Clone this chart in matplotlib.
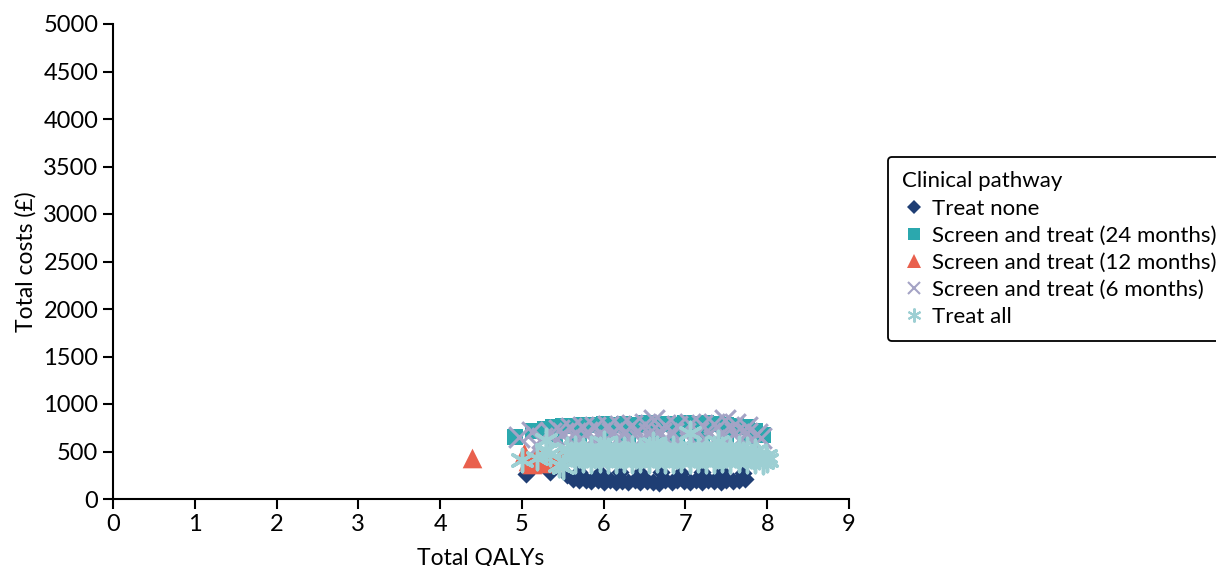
import matplotlib
matplotlib.use("Agg")
import matplotlib.pyplot as plt
from matplotlib.lines import Line2D

plt.rcParams['font.family'] = ['Lato', 'DejaVu Sans']

# PSA samples per clinical pathway (QALYs, costs in GBP)
treat_none_qaly = [5.05, 5.34, 5.55, 5.62, 5.70, 5.78, 5.85, 5.93, 6.00, 6.08,
                   6.15, 6.23, 6.30, 6.38, 6.45, 6.53, 6.60, 6.68, 6.75, 6.83,
                   6.90, 6.98, 7.05, 7.13, 7.20, 7.28, 7.35, 7.43, 7.50, 7.58,
                   7.65, 7.73, 5.70, 5.95, 6.20, 6.45, 6.70, 6.95,
                   7.20, 7.45, 7.70]
treat_none_cost = [265, 285, 250, 215, 195, 205, 185, 200, 180, 195,
                   175, 190, 180, 195, 175, 190, 180, 170, 195, 180,
                   200, 185, 175, 195, 180, 195, 185, 175, 195, 185,
                   200, 215, 280, 270, 285, 275, 280, 270,
                   280, 285, 275]

screen24_qaly = [4.92, 5.13, 5.28, 5.38, 5.50, 5.62, 5.75, 5.88, 6.00, 6.12,
                 6.25, 6.38, 6.50, 6.62, 6.75, 6.88, 7.00, 7.12, 7.25, 7.38,
                 7.50, 7.62, 7.75, 7.85, 7.95, 5.40, 5.70, 6.00, 6.30, 6.60,
                 6.90, 7.20, 7.50, 7.80]
screen24_cost = [655, 720, 740, 755, 765, 770, 780, 775, 785, 780,
                 790, 780, 795, 785, 790, 780, 795, 785, 800, 790,
                 780, 770, 760, 720, 670, 660, 650, 640, 660, 650,
                 640, 655, 645, 650]

screen12_qaly = [4.39, 5.02, 5.08, 5.15, 5.22, 5.30, 5.38, 5.48, 5.60, 5.80,
                 6.10, 6.50, 6.90, 7.30, 7.70, 7.89, 5.25, 5.12]
screen12_cost = [430, 480, 400, 440, 470, 430, 400, 470, 490, 510,
                 490, 500, 480, 490, 470, 500, 380, 370]

screen6_qaly = [5.45, 5.60, 5.75, 5.90, 6.05, 6.20, 6.35, 6.50, 6.62, 6.75,
                6.90, 7.05, 7.20, 7.35, 7.48, 7.60, 7.75,
                5.35, 5.50, 5.65, 5.80, 5.95, 6.10, 6.25, 6.40, 6.55, 6.70,
                6.85, 7.00, 7.15, 7.30, 7.45, 7.60, 7.75, 7.88,
                5.40, 5.55, 5.70, 5.85, 6.00, 6.15, 6.30, 6.45, 6.60, 6.75,
                6.90, 7.05, 7.20, 7.35, 7.50, 7.65, 7.80, 7.92,
                4.96, 5.12, 5.25, 5.20]
screen6_cost = [730, 750, 760, 755, 770, 765, 780, 790, 830, 780,
                770, 785, 775, 790, 830, 790, 760,
                690, 700, 690, 705, 695, 700, 690, 705, 700, 690,
                700, 695, 705, 690, 700, 695, 690, 680,
                610, 620, 615, 625, 610, 620, 615, 625, 610, 620,
                615, 625, 610, 620, 615, 625, 620, 640,
                650, 710, 640, 560]

treat_all_qaly = [5.55, 5.65, 5.75, 5.85, 5.95, 6.05, 6.15, 6.25, 6.35, 6.45,
                  6.55, 6.65, 6.75, 6.85, 6.95, 7.05, 7.15, 7.25, 7.35, 7.45,
                  7.55, 7.65, 7.75, 7.85,
                  5.60, 5.70, 5.80, 5.90, 6.00, 6.10, 6.20, 6.30, 6.40, 6.50,
                  6.60, 6.70, 6.80, 6.90, 7.00, 7.10, 7.20, 7.30, 7.40, 7.50,
                  7.60, 7.70, 7.80, 7.90,
                  5.65, 5.75, 5.85, 5.95, 6.05, 6.15, 6.25, 6.35, 6.45, 6.55,
                  6.65, 6.75, 6.85, 6.95, 7.05, 7.15, 7.25, 7.35, 7.45, 7.55,
                  7.65, 7.75, 7.85,
                  5.00, 5.18, 5.30, 5.34, 5.45, 5.50, 5.30, 7.05, 6.00, 6.60,
                  7.40, 7.95, 8.00, 7.98]
treat_all_cost = [525, 535, 520, 540, 530, 515, 535, 525, 540, 520,
                  530, 535, 525, 540, 520, 530, 535, 525, 540, 530,
                  520, 535, 525, 510,
                  470, 460, 465, 455, 470, 460, 465, 470, 455, 465,
                  460, 470, 465, 455, 470, 460, 465, 470, 455, 465,
                  460, 470, 450, 440,
                  405, 410, 400, 415, 405, 400, 410, 405, 415, 400,
                  410, 405, 400, 415, 405, 410, 400, 405, 415, 400,
                  410, 405, 400,
                  410, 430, 515, 470, 360, 340, 620, 700, 590, 580,
                  600, 390, 410, 450]

labels = ['Treat none', 'Screen and treat (24 months)',
          'Screen and treat (12 months)', 'Screen and treat (6 months)',
          'Treat all']
colors = ['#1f3e74', '#2ba8ae', '#e9604d', '#a4a3c5', '#9dcfd3']
asterisk = (6, 2, 0)

fig = plt.figure(figsize=(12.16, 5.66), dpi=100)
ax = fig.add_axes([113 / 1216, 67 / 566, 736 / 1216, 475 / 566])

ax.scatter(treat_none_qaly, treat_none_cost, marker='D', s=85,
           color=colors[0], linewidths=0)
ax.scatter(screen24_qaly, screen24_cost, marker='s', s=140,
           color=colors[1], linewidths=0)
ax.scatter(screen12_qaly, screen12_cost, marker='^', s=200,
           color=colors[2], linewidths=0)
ax.scatter(screen6_qaly, screen6_cost, marker='x', s=220,
           color=colors[3], linewidths=2.2)
ax.scatter(treat_all_qaly, treat_all_cost, marker=asterisk, s=260,
           color=colors[4], linewidths=2.5)

ax.set_xlim(0, 9)
ax.set_ylim(0, 5000)
ax.set_xticks(range(0, 10))
ax.set_yticks(range(0, 5001, 500))
for side in ('top', 'right'):
    ax.spines[side].set_visible(False)
for side in ('left', 'bottom'):
    ax.spines[side].set_linewidth(1.5)
ax.tick_params(labelsize=17, width=1.5, length=7, colors='black')
ax.set_xlabel('Total QALYs', fontsize=16.5, labelpad=9)
ax.set_ylabel('Total costs (£)', fontsize=16.5, labelpad=5)

handles = [
    Line2D([], [], ls='none', marker='D', ms=7, color=colors[0], mew=0),
    Line2D([], [], ls='none', marker='s', ms=8.5, color=colors[1], mew=0),
    Line2D([], [], ls='none', marker='^', ms=9.5, color=colors[2], mew=0),
    Line2D([], [], ls='none', marker='x', ms=8, color=colors[3], mew=1.5),
    Line2D([], [], ls='none', marker=asterisk, ms=10, color=colors[4], mew=1.5),
]
leg = fig.legend(handles, labels, title='Clinical pathway',
                 loc='upper left', bbox_to_anchor=(888 / 1216, 409 / 566),
                 borderaxespad=0, fontsize=16, title_fontsize=16,
                 alignment='left', frameon=True, fancybox=True,
                 edgecolor='black', framealpha=1, handletextpad=0.35,
                 handlelength=1.0, labelspacing=0.32, borderpad=0.65)
leg.get_frame().set_linewidth(1.3)

fig.savefig('out.png', dpi=100)
